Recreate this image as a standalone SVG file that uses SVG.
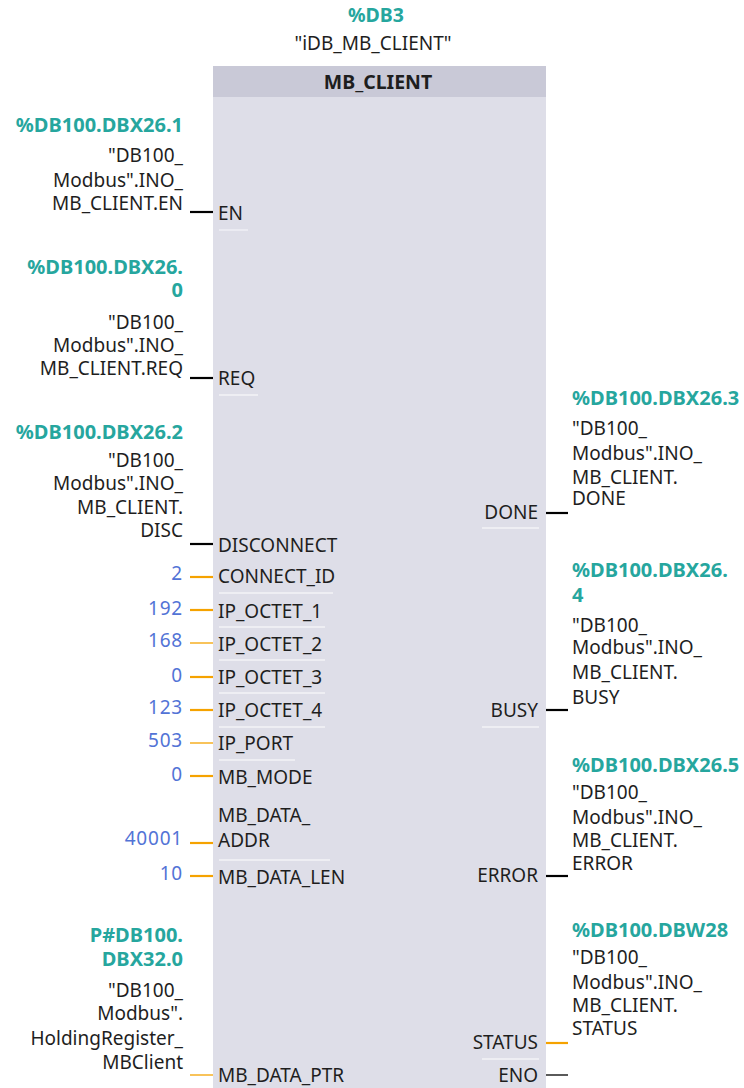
<svg xmlns="http://www.w3.org/2000/svg" width="744" height="1088" viewBox="0 0 744 1088">
  <style>
    text { font-family: "Noto Sans", "Open Sans", sans-serif; font-size: 19px; fill: #1e1e1e; }
    .addr { fill: #26a69e; font-weight: bold; font-size: 20px; }
    .num { fill: #5273d6; letter-spacing: 0.8px; }
    .r { text-anchor: end; }
    .c { text-anchor: middle; }
    .title { font-weight: bold; font-size: 19.5px; }
    .bool { stroke: #000; stroke-width: 2.2; }
    .word { stroke: #f5a200; stroke-width: 2.2; }
    .thin { stroke: #f5a200; stroke-width: 1.3; }
    .thinb { stroke: #000; stroke-width: 1.3; }
    .sep { stroke: #f3f3f7; stroke-width: 1.3; }
  </style>

  <rect width="744" height="1088" fill="#ffffff"/>

  <!-- instance data block -->
  <g id="instance">
    <text class="addr c" x="376" y="22" style="font-size:19.5px">%DB3</text>
    <text class="c" x="373" y="50">"iDB_MB_CLIENT"</text>
  </g>

  <!-- function block body -->
  <g id="block">
    <rect x="213" y="66" width="333" height="1022" fill="#dedee8"/>
    <rect x="213" y="66" width="333" height="31" fill="#c9c9d7"/>
    <text class="title c" x="378" y="89">MB_CLIENT</text>
    <g id="separators">
      <line class="sep" x1="219" y1="230" x2="248" y2="230"/>
      <line class="sep" x1="219" y1="395" x2="258" y2="395"/>
      <line class="sep" x1="219" y1="593" x2="333" y2="593"/>
      <line class="sep" x1="219" y1="627" x2="325" y2="627"/>
      <line class="sep" x1="219" y1="660" x2="325" y2="660"/>
      <line class="sep" x1="219" y1="693" x2="325" y2="693"/>
      <line class="sep" x1="219" y1="727" x2="325" y2="727"/>
      <line class="sep" x1="219" y1="760" x2="295" y2="760"/>
      <line class="sep" x1="219" y1="860" x2="330" y2="860"/>
      <line class="sep" x1="482" y1="528" x2="539" y2="528"/>
      <line class="sep" x1="482" y1="727" x2="539" y2="727"/>
      <line class="sep" x1="482" y1="1059" x2="539" y2="1059"/>
    </g>
  </g>

  <!-- pin wires -->
  <g id="connectors">
    <line class="bool" x1="190" y1="212" x2="213" y2="212"/>
    <line class="bool" x1="190" y1="378" x2="213" y2="378"/>
    <line class="bool" x1="190" y1="544" x2="213" y2="544"/>
    <line class="word" x1="190" y1="577" x2="213" y2="577"/>
    <line class="word" x1="190" y1="610" x2="213" y2="610"/>
    <line class="thin" x1="190" y1="643" x2="213" y2="643"/>
    <line class="word" x1="190" y1="677" x2="213" y2="677"/>
    <line class="word" x1="190" y1="710" x2="213" y2="710"/>
    <line class="thin" x1="190" y1="743" x2="213" y2="743"/>
    <line class="word" x1="190" y1="776" x2="213" y2="776"/>
    <line class="word" x1="190" y1="843" x2="213" y2="843"/>
    <line class="word" x1="190" y1="876" x2="213" y2="876"/>
    <line class="thin" x1="190" y1="1075" x2="213" y2="1075"/>
    <line class="bool" x1="546" y1="513" x2="568" y2="513"/>
    <line class="bool" x1="546" y1="710" x2="568" y2="710"/>
    <line class="bool" x1="546" y1="876" x2="568" y2="876"/>
    <line class="word" x1="546" y1="1043" x2="568" y2="1043"/>
    <line class="thinb" x1="546" y1="1075" x2="568" y2="1075"/>
  </g>

  <!-- input pins: operand address + symbolic name, then the pin label -->
  <g id="pin-en">
    <text class="addr r" x="183" y="132">%DB100.DBX26.1</text>
    <text class="r" x="183" y="162">"DB100_</text>
    <text class="r" x="183" y="187">Modbus".INO_</text>
    <text class="r" x="183" y="210">MB_CLIENT.EN</text>
    <text x="218" y="220">EN</text>
  </g>
  <g id="pin-req">
    <text class="addr r" x="183" y="274">%DB100.DBX26.</text>
    <text class="addr r" x="183" y="297">0</text>
    <text class="r" x="183" y="329">"DB100_</text>
    <text class="r" x="183" y="352">Modbus".INO_</text>
    <text class="r" x="183" y="375">MB_CLIENT.REQ</text>
    <text x="218" y="385">REQ</text>
  </g>
  <g id="pin-disconnect">
    <text class="addr r" x="183" y="439">%DB100.DBX26.2</text>
    <text class="r" x="183" y="467">"DB100_</text>
    <text class="r" x="183" y="490">Modbus".INO_</text>
    <text class="r" x="183" y="514">MB_CLIENT.</text>
    <text class="r" x="183" y="537">DISC</text>
    <text x="218" y="552">DISCONNECT</text>
  </g>
  <g id="pin-connect-id">
    <text class="num r" x="183" y="580">2</text>
    <text x="218" y="583">CONNECT_ID</text>
  </g>
  <g id="pin-ip-octet-1">
    <text class="num r" x="183" y="615">192</text>
    <text x="218" y="618">IP_OCTET_1</text>
  </g>
  <g id="pin-ip-octet-2">
    <text class="num r" x="183" y="647">168</text>
    <text x="218" y="651">IP_OCTET_2</text>
  </g>
  <g id="pin-ip-octet-3">
    <text class="num r" x="183" y="682">0</text>
    <text x="218" y="684">IP_OCTET_3</text>
  </g>
  <g id="pin-ip-octet-4">
    <text class="num r" x="183" y="714">123</text>
    <text x="218" y="717">IP_OCTET_4</text>
  </g>
  <g id="pin-ip-port">
    <text class="num r" x="183" y="747">503</text>
    <text x="218" y="750">IP_PORT</text>
  </g>
  <g id="pin-mb-mode">
    <text class="num r" x="183" y="781">0</text>
    <text x="218" y="784">MB_MODE</text>
  </g>
  <g id="pin-mb-data-addr">
    <text class="num r" x="183" y="845">40001</text>
    <text x="218" y="822">MB_DATA_</text>
    <text x="218" y="847">ADDR</text>
  </g>
  <g id="pin-mb-data-len">
    <text class="num r" x="183" y="880">10</text>
    <text x="218" y="884">MB_DATA_LEN</text>
  </g>
  <g id="pin-mb-data-ptr">
    <text class="addr r" x="183" y="942">P#DB100.</text>
    <text class="addr r" x="183" y="966">DBX32.0</text>
    <text class="r" x="183" y="997">"DB100_</text>
    <text class="r" x="183" y="1020">Modbus".</text>
    <text class="r" x="183" y="1045">HoldingRegister_</text>
    <text class="r" x="183" y="1069">MBClient</text>
    <text x="218" y="1082">MB_DATA_PTR</text>
  </g>

  <!-- output pins: pin label, then operand address + symbolic name -->
  <g id="pin-done">
    <text class="addr" x="572" y="405">%DB100.DBX26.3</text>
    <text x="572" y="435">"DB100_</text>
    <text x="572" y="460">Modbus".INO_</text>
    <text x="572" y="484">MB_CLIENT.</text>
    <text x="572" y="505">DONE</text>
    <text class="r" x="538" y="519">DONE</text>
  </g>
  <g id="pin-busy">
    <text class="addr" x="572" y="577">%DB100.DBX26.</text>
    <text class="addr" x="572" y="602">4</text>
    <text x="572" y="632">"DB100_</text>
    <text x="572" y="654">Modbus".INO_</text>
    <text x="572" y="679">MB_CLIENT.</text>
    <text x="572" y="704">BUSY</text>
    <text class="r" x="538" y="717">BUSY</text>
  </g>
  <g id="pin-error">
    <text class="addr" x="572" y="772">%DB100.DBX26.5</text>
    <text x="572" y="799">"DB100_</text>
    <text x="572" y="824">Modbus".INO_</text>
    <text x="572" y="847">MB_CLIENT.</text>
    <text x="572" y="870">ERROR</text>
    <text class="r" x="538" y="882">ERROR</text>
  </g>
  <g id="pin-status">
    <text class="addr" x="572" y="937">%DB100.DBW28</text>
    <text x="572" y="964">"DB100_</text>
    <text x="572" y="989">Modbus".INO_</text>
    <text x="572" y="1012">MB_CLIENT.</text>
    <text x="572" y="1035">STATUS</text>
    <text class="r" x="538" y="1049">STATUS</text>
  </g>
  <g id="pin-eno">
    <text class="r" x="538" y="1082">ENO</text>
  </g>
</svg>
